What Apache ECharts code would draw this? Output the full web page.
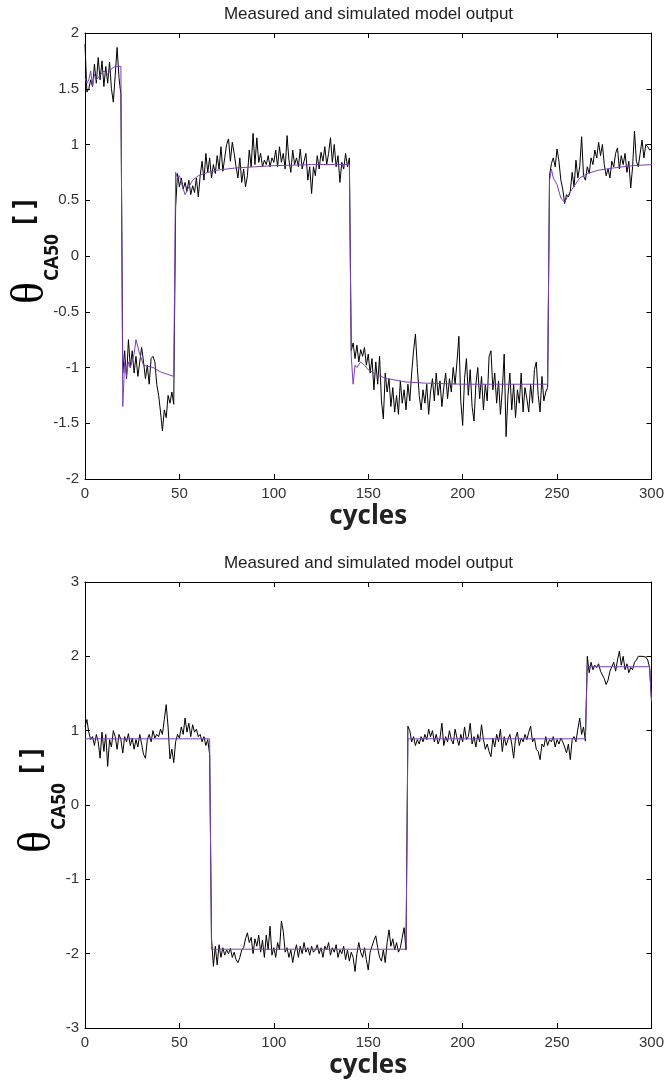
<!DOCTYPE html>
<html>
<head>
<meta charset="utf-8">
<script src="https://cdn.jsdelivr.net/npm/echarts@6/dist/echarts.min.js"></script>
<style>
html,body{margin:0;padding:0;background:#fff;}
#c{width:667px;height:1083px;}
</style>
</head>
<body>
<div id="c"></div>
<script>
// ---- data ----
const titleText = 'Measured and simulated model output';
const xTicks = [0, 50, 100, 150, 200, 250, 300];
const yTicksTop = [-2, -1.5, -1, -0.5, 0, 0.5, 1, 1.5, 2];
const yTicksBottom = [-3, -2, -1, 0, 1, 2, 3];

// top panel: measured output, one value per cycle (0..300)
const measuredTop = [
 1.90,1.47,1.50,1.58,1.52,1.72,1.55,1.78,1.58,1.75,1.52,1.70,1.55,1.74,1.50,1.38,1.62,1.87,1.60,1.45,
 -1.05,-0.85,-1.10,-0.75,-1.00,-0.85,-1.05,-0.90,-1.08,-0.95,-0.82,-0.95,-1.10,-0.98,-1.15,-0.92,-0.90,-0.95,-1.15,-1.25,-1.40,-1.57,-1.38,-1.45,-1.25,-1.32,-1.22,-1.33,
 0.44,0.74,0.62,0.70,0.60,0.66,0.58,0.68,0.55,0.63,0.57,0.70,0.53,
 0.72,0.85,0.68,0.92,0.75,0.88,0.70,0.82,0.74,0.90,
 0.78,0.98,0.76,0.88,1.00,1.05,0.85,1.02,0.92,0.80,
 0.70,0.88,0.66,0.78,0.62,0.72,0.95,0.80,1.10,0.82,
 1.06,0.84,0.92,0.80,0.86,0.82,0.90,0.80,0.88,0.84,
 0.95,0.80,0.98,0.84,0.92,0.78,1.08,0.86,0.75,0.95,
 0.82,0.88,0.80,0.96,0.78,0.85,0.92,0.68,0.80,0.56,
 0.80,0.72,0.90,0.78,0.93,0.85,0.98,0.82,0.92,1.06,
 0.84,1.00,0.80,0.90,0.66,0.84,0.78,0.92,0.80,0.88,
 -0.85,-0.78,-0.92,-0.80,-0.95,-0.84,-0.90,-0.82,-0.98,-0.88,
 -1.05,-0.92,-1.20,-0.95,-1.15,-0.90,-1.30,-1.46,-1.05,-1.22,
 -1.10,-1.35,-1.18,-1.40,-1.25,-1.42,-1.12,-1.32,-1.20,-1.38,
 -1.15,-1.30,-1.05,-0.85,-0.70,-1.00,-1.25,-1.38,-1.20,-1.32,
 -1.15,-1.42,-1.22,-1.10,-1.30,-1.05,-1.25,-1.12,-1.35,-1.18,
 -1.05,-1.28,-1.10,-1.22,-1.00,-1.15,-0.95,-0.72,-1.30,-1.52,
 -1.10,-0.92,-1.25,-1.02,-1.35,-1.48,-1.15,-1.00,-1.28,-1.08,
 -1.38,-1.15,-1.30,-0.90,-0.85,-1.20,-1.05,-1.32,-1.12,-1.42,
 -1.20,-0.88,-1.62,-1.25,-1.05,-1.38,-1.15,-1.45,-1.20,-1.32,
 -1.05,-1.40,-1.18,-1.28,-1.40,-1.15,-1.32,-1.02,-0.95,-1.25,
 -1.40,-1.08,-1.30,-1.22,-1.18,
 0.72,0.83,0.88,0.80,0.96,
 0.85,0.68,0.60,0.47,0.55,0.53,0.58,0.75,0.62,0.86,
 0.70,0.80,1.07,0.72,0.68,0.80,0.74,0.88,0.82,0.95,
 0.88,1.02,0.90,1.00,0.82,0.72,0.78,0.70,0.85,0.80,
 0.92,0.97,0.78,0.90,0.82,0.92,0.75,0.85,0.61,0.80,
 1.12,0.85,0.80,0.92,1.04,0.88,1.00,0.98,0.95,0.96
];

// top panel: simulated output, [cycle, value] break points
const simulatedTop = [
 [0,1.60],[1,1.55],[2,1.58],[3,1.66],[4,1.52],[5,1.63],[6,1.58],[8,1.62],[10,1.66],[12,1.63],[14,1.68],[16,1.70],[19,1.70],
 [20,-1.35],[21,-0.95],[22,-1.08],[23,-0.95],[24,-1.00],[26,-0.88],[27,-0.75],[29,-0.88],[31,-0.98],[36,-1.00],[40,-1.04],[47,-1.08],
 [48,0.75],[49,0.70],[50,0.72],[52,0.60],[53,0.55],[55,0.62],[57,0.68],[60,0.72],[65,0.75],[70,0.77],[80,0.79],[90,0.80],[100,0.81],[120,0.82],[140,0.82],
 [141,-0.90],[142,-1.15],[143,-0.98],[144,-1.00],[146,-0.95],[148,-0.98],[150,-1.02],[155,-1.07],[160,-1.10],[170,-1.13],[180,-1.14],[200,-1.15],[245,-1.15],
 [246,0.68],[247,0.78],[248,0.70],[250,0.64],[252,0.52],[254,0.48],[256,0.55],[258,0.60],[262,0.70],[266,0.74],[272,0.77],[280,0.79],[290,0.81],[300,0.82]
];

// bottom panel: measured output, one value per cycle (0..300)
const measuredBottom = [
 1.05,1.15,0.98,0.88,0.92,0.80,0.95,0.85,0.63,0.98,
 0.72,0.95,0.52,0.88,0.78,1.00,0.92,0.75,0.95,0.88,
 0.70,0.92,0.85,0.96,0.80,0.90,0.75,0.88,0.78,0.95,
 0.82,0.68,0.63,0.88,0.95,0.85,1.00,0.90,0.95,0.92,
 1.02,0.95,1.15,1.35,1.05,0.62,0.75,0.57,0.85,0.95,
 0.90,1.05,0.95,1.17,0.98,1.10,0.92,1.08,0.98,1.02,
 0.92,0.95,0.85,0.92,0.80,0.88,0.68,
 -1.79,-2.17,-1.90,-2.15,-1.88,-2.05,-1.92,-2.02,-1.95,-2.00,
 -1.93,-2.05,-1.98,-2.08,-2.12,-2.05,-1.95,-1.92,-1.80,-1.72,
 -1.85,-1.78,-2.00,-1.80,-1.90,-1.75,-1.98,-1.82,-2.05,-1.75,
 -1.95,-1.63,-2.02,-1.92,-2.05,-1.85,-1.95,-1.56,-1.70,-1.98,
 -1.92,-2.05,-1.95,-2.12,-1.98,-1.88,-2.05,-1.90,-2.00,-1.85,
 -1.98,-1.92,-2.02,-1.90,-1.98,-1.95,-1.88,-2.00,-1.92,-2.05,
 -1.90,-1.95,-1.85,-2.02,-1.92,-1.98,-1.88,-2.05,-1.95,-2.00,
 -1.90,-2.08,-1.95,-2.10,-1.98,-2.05,-2.24,-2.00,-1.85,-1.98,
 -2.05,-1.92,-2.08,-2.22,-1.98,-1.90,-1.82,-1.76,-1.92,-2.05,
 -2.10,-1.95,-2.12,-1.85,-1.68,-1.90,-1.80,-1.95,-1.85,-1.98,
 -1.92,-1.78,-1.65,-1.95,
 1.06,1.00,0.85,0.92,0.80,0.88,0.82,0.92,0.85,0.95,
 0.88,1.02,0.92,1.00,0.85,0.95,0.82,0.90,1.10,0.80,
 0.92,0.85,1.00,0.88,0.82,1.02,0.90,0.80,0.95,0.85,
 1.05,0.88,0.92,1.10,0.82,0.92,0.78,0.95,0.85,1.08,
 0.88,0.75,0.82,0.72,0.65,0.90,0.78,0.95,0.85,1.02,
 0.72,0.92,0.80,0.88,0.95,0.82,0.63,0.90,0.98,0.80,
 0.90,0.85,0.95,0.88,0.98,1.06,0.85,0.90,0.75,0.72,
 0.61,0.82,0.78,0.92,0.80,0.88,0.85,0.92,0.78,0.88,
 0.82,0.90,0.85,0.78,0.70,0.82,0.61,0.88,0.92,0.85,
 1.02,1.17,0.95,1.05,0.86,
 2.00,1.78,1.92,1.82,1.88,1.85,1.90,1.80,1.75,1.70,
 1.62,1.68,1.80,1.78,1.92,1.80,1.95,2.07,1.88,2.00,
 1.82,1.90,1.78,1.85,1.82,1.92,1.95,2.00,2.02,2.00,
 1.98,1.99,1.95,1.85,1.40
];

// bottom panel: simulated output, [cycle, value] break points
const simulatedBottom = [
 [0,0.89],[66,0.89],[67,-1.94],[170,-1.94],[171,0.89],[265,0.89],[266,1.86],[299,1.86],[300,1.40]
];

// ---- chart ----
const chart = echarts.init(document.getElementById('c'), null, {renderer:'canvas'});
const GL = 85, GW = 567, GH = 446;
const tops = [33, 582];
const labelFont = 'Liberation Sans, Arial, sans-serif';

function xAx(gi, pos){
  return {
    type:'value', gridIndex:gi, position:pos, min:xTicks[0], max:xTicks[xTicks.length-1],
    interval:xTicks[1]-xTicks[0],
    axisLine:{show:true, onZero:false, lineStyle:{color:'#000', width:1}},
    axisTick:{show:true, inside:true, length:5, lineStyle:{color:'#000'}},
    axisLabel:{show:pos==='bottom', color:'#333', fontSize:15, fontFamily:labelFont, margin:7},
    splitLine:{show:false},
    name: pos==='bottom' ? 'cycles' : '',
    nameLocation:'middle', nameGap:25,
    nameTextStyle:{fontFamily:'Open Sans', fontWeight:'bold', fontSize:26, color:'#222'}
  };
}
function yAx(gi, pos, ticks){
  return {
    type:'value', gridIndex:gi, position:pos, min:ticks[0], max:ticks[ticks.length-1],
    interval:ticks[1]-ticks[0],
    axisLine:{show:true, onZero:false, lineStyle:{color:'#000', width:1}},
    axisTick:{show:true, inside:true, length:5, lineStyle:{color:'#000'}},
    axisLabel:{show:pos==='left', color:'#333', fontSize:15, fontFamily:labelFont, margin:6},
    splitLine:{show:false}
  };
}

function yLabel(dx, dy){
  return [
    {type:'text', x:39+dx, y:225+dy, rotation:Math.PI/2,
     style:{text:'[ ]', font:'bold 28px "Open Sans"', fill:'#111', align:'left', verticalAlign:'bottom'}},
    {type:'text', x:62+dx, y:281+dy, rotation:Math.PI/2,
     style:{text:'CA50', font:'bold 19px "Open Sans"', fill:'#111', align:'left', verticalAlign:'bottom'}},
    {type:'text', x:54+dx, y:304+dy, rotation:Math.PI/2,
     style:{text:'θ', font:'46px "Liberation Serif"', fill:'#000', align:'left', verticalAlign:'bottom'}}
  ];
}

const graphics = [
  {type:'text', x:GL+GW/2, y:14, style:{text:titleText, font:'17px "Liberation Sans"', fill:'#222', align:'center', verticalAlign:'middle'}},
  {type:'text', x:GL+GW/2, y:563, style:{text:titleText, font:'17px "Liberation Sans"', fill:'#222', align:'center', verticalAlign:'middle'}}
].concat(yLabel(0,0), yLabel(7,549));

const option = {
  animation:false,
  backgroundColor:'#fff',
  grid:[
    {left:GL, top:tops[0], width:GW, height:GH},
    {left:GL, top:tops[1], width:GW, height:GH}
  ],
  xAxis:[xAx(0,'bottom'), xAx(0,'top'), xAx(1,'bottom'), xAx(1,'top')],
  yAxis:[yAx(0,'left',yTicksTop), yAx(0,'right',yTicksTop), yAx(1,'left',yTicksBottom), yAx(1,'right',yTicksBottom)],
  graphic:graphics,
  series:[
    {type:'line', xAxisIndex:0, yAxisIndex:0, showSymbol:false, data:measuredTop.map((v,i)=>[i,v]),
     lineStyle:{color:'#000', width:1}, itemStyle:{color:'#000'}},
    {type:'line', xAxisIndex:0, yAxisIndex:0, showSymbol:false, data:simulatedTop,
     lineStyle:{color:'#7a40b8', width:1}, itemStyle:{color:'#7a40b8'}},
    {type:'line', xAxisIndex:2, yAxisIndex:2, showSymbol:false, data:measuredBottom.map((v,i)=>[i,v]),
     lineStyle:{color:'#000', width:1}, itemStyle:{color:'#000'}},
    {type:'line', xAxisIndex:2, yAxisIndex:2, showSymbol:false, data:simulatedBottom,
     lineStyle:{color:'#7a40b8', width:1}, itemStyle:{color:'#7a40b8'}}
  ]
};
chart.setOption(option);
</script>
</body>
</html>
